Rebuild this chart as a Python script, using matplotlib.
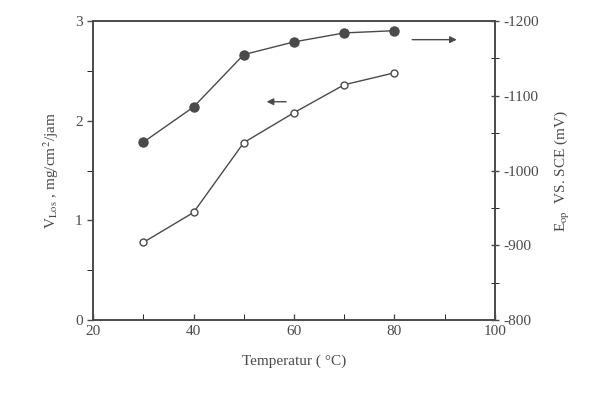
import matplotlib.pyplot as plt
from matplotlib.ticker import MultipleLocator

plt.rcParams['font.family'] = ['Liberation Serif', 'DejaVu Serif']
plt.rcParams['mathtext.fontset'] = 'stix'
plt.rcParams['axes.unicode_minus'] = False

temp = [30, 40, 50, 60, 70, 80]
v_loss = [0.78, 1.08, 1.78, 2.08, 2.36, 2.48]
e_op = [-1038, -1085, -1155, -1172, -1184, -1187]

ink = '#4a4a4a'

fig = plt.figure(figsize=(6.13, 4.11), dpi=100)
ax = fig.add_axes([0.152, 0.221, 0.655, 0.728])
ax2 = ax.twinx()

ax.plot(temp, v_loss, color=ink, lw=1, marker='o', ms=5,
        mfc='white', mec=ink, mew=1)
ax2.plot(temp, e_op, color=ink, lw=1, marker='o', ms=6.5,
         mfc=ink, mec=ink)

ax.set_xlim(20, 100)
ax.set_ylim(0, 3)
ax2.set_ylim(-800, -1200)

ax.xaxis.set_major_locator(MultipleLocator(20))
ax.xaxis.set_minor_locator(MultipleLocator(10))
ax.yaxis.set_major_locator(MultipleLocator(1))
ax.yaxis.set_minor_locator(MultipleLocator(0.5))
ax2.yaxis.set_major_locator(MultipleLocator(100))
ax2.yaxis.set_minor_locator(MultipleLocator(50))

for a in (ax, ax2):
    for s in a.spines.values():
        s.set_color(ink)
        s.set_linewidth(1.2)
    a.tick_params(colors=ink, labelsize=11, width=1)
ax.tick_params(axis='x', which='both', direction='in', top=False, length=4)
ax.tick_params(axis='y', which='both', direction='out', length=4)
ax2.tick_params(axis='y', which='both', direction='inout', length=6)

ax.set_xlabel('Temperatur ( °C)', color=ink, fontsize=11, labelpad=12)
ax.set_ylabel(r'V$_{\mathrm{Los}}$ , mg/cm$^{2}$/jam', color=ink, fontsize=11, labelpad=10)
ax2.set_ylabel(r'E$_{\mathrm{op}}$  VS. SCE (mV)', color=ink, fontsize=11, labelpad=10)

ax2.annotate('', xy=(93, -1175), xytext=(83, -1175),
             arrowprops=dict(arrowstyle='-|>', color=ink, lw=1))
ax.annotate('', xy=(54, 2.19), xytext=(59, 2.19),
            arrowprops=dict(arrowstyle='-|>', color=ink, lw=1))

fig.savefig('out.png', dpi=100)
